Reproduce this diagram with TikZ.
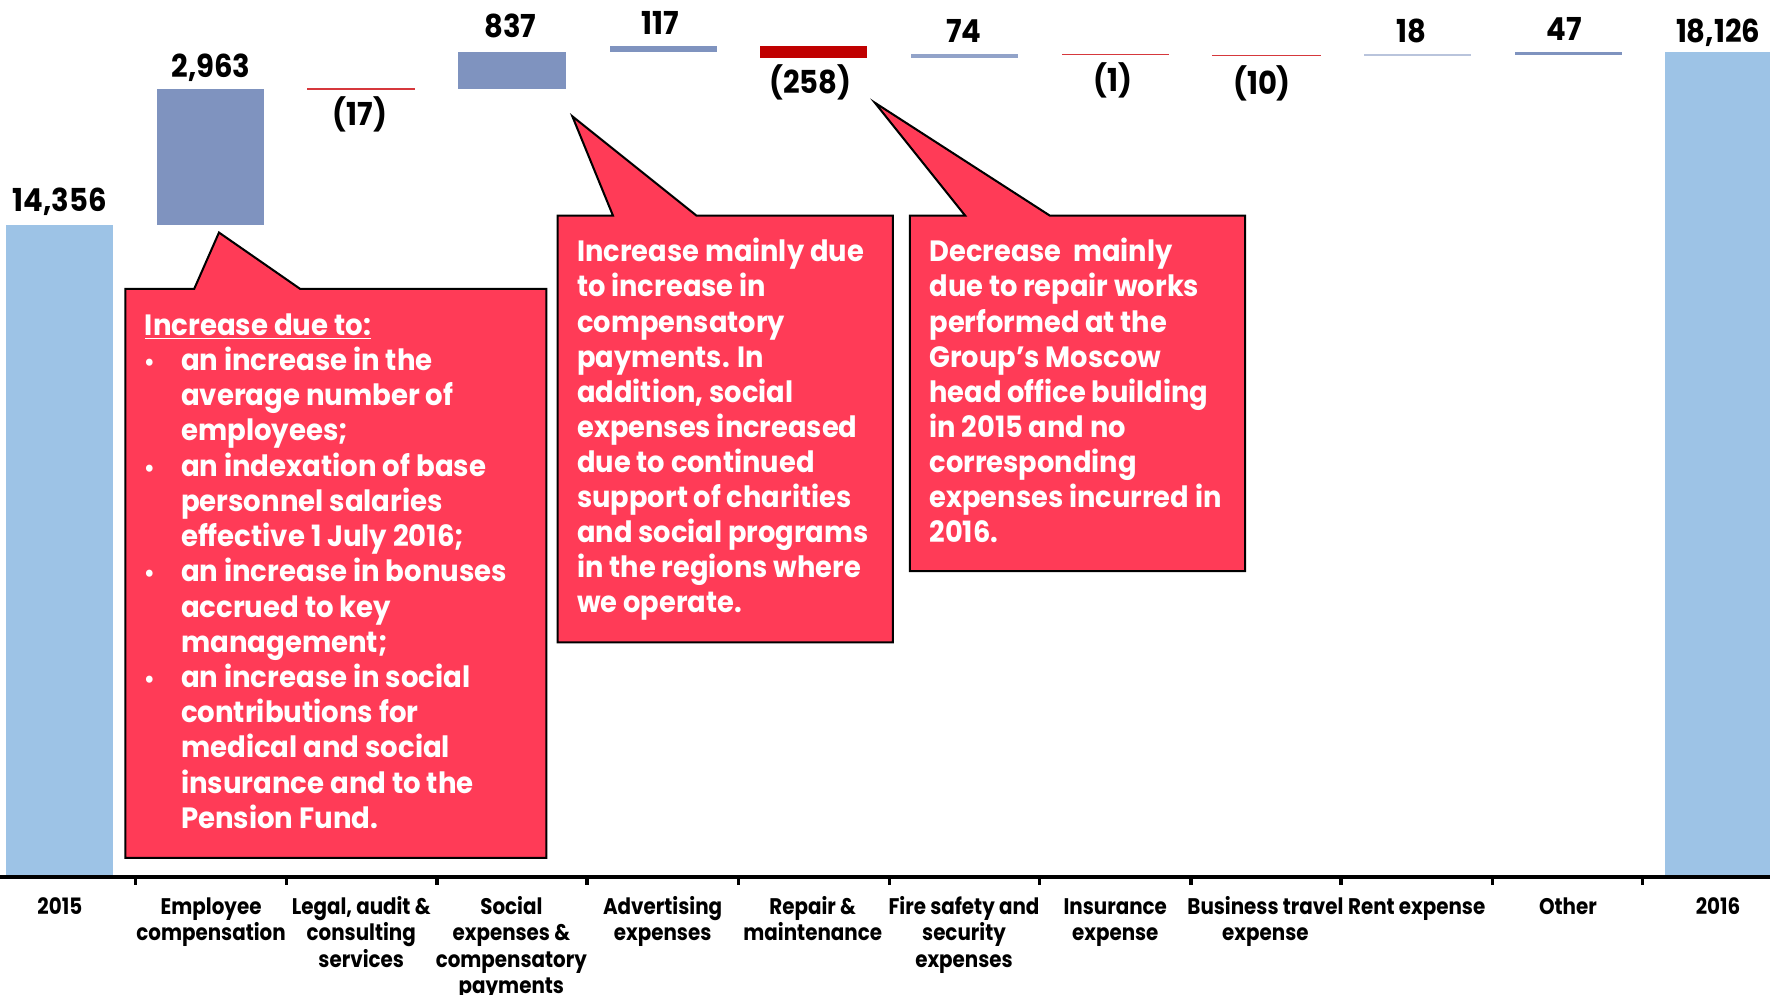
\documentclass[tikz,border=0pt]{standalone}
\usepackage{fontspec}
\setmainfont{Poppins}
\newfontfamily\afont{Poppins}[FakeStretch=0.94]
\newfontfamily\bfontc{Poppins}[FakeStretch=0.93]
\newfontfamily\condfont{Poppins}[FakeStretch=0.88]
\newfontfamily\numfont{Poppins}[FakeStretch=0.92]
\definecolor{lightbar}{RGB}{157,195,230}
\definecolor{incbar}{RGB}{127,147,191}
\definecolor{decline}{RGB}{214,56,60}
\definecolor{bigdec}{RGB}{192,0,0}
\definecolor{callred}{RGB}{255,59,87}
\newcommand{\catlines}[1]{\begin{tabular}[t]{@{}c@{}}#1\end{tabular}}
\newcommand{\boxlines}[1]{\parbox[t]{190pt}{\raggedright #1}}
\newcommand{\bl}{\hspace*{-0.5pt}\makebox[16.5pt][l]{\scalebox{0.8}{•}}}
\newcommand{\ct}{\hspace*{16pt}}
\begin{document}
\begin{tikzpicture}[x=0.5pt,y=-0.5pt,
  num/.style={font=\numfont\fontsize{14}{16}\selectfont\bfseries, anchor=base, inner sep=0},
  cat/.style={font=\condfont\fontsize{10}{11.75}\selectfont\bfseries, anchor=base, inner sep=0},
  callout/.style={fill=callred, draw=black, line width=0.9pt, line join=miter},
  ctextA/.style={font=\afont\fontsize{13}{15.6}\selectfont\bfseries, text=white, anchor=base west, inner sep=0},
  ctextB/.style={font=\bfontc\fontsize{13}{15.55}\selectfont\bfseries, text=white, anchor=base west, inner sep=0},
  tick/.style={line width=1.5pt},
]
\useasboundingbox (0,0) rectangle (1568,881);
% bars
\fill[lightbar] (5,199) rectangle (100,776);
\fill[incbar] (139,79) rectangle (234,199);
\fill[decline] (272,78) rectangle (368,80);
\fill[incbar] (406,46) rectangle (501,79);
\fill[incbar] (540,41) rectangle (635,46);
\fill[bigdec] (673,41) rectangle (768,51);
\fill[incbar!85!white] (807,48) rectangle (902,51);
\fill[decline] (941,47.5) rectangle (1036,49);
\fill[decline] (1074,48.5) rectangle (1170,50);
\fill[incbar!55!white] (1208,47.5) rectangle (1303,49.5);
\fill[incbar] (1342,46) rectangle (1437,48.5);
\fill[lightbar] (1475,46) rectangle (1568,776);
% axis
\coordinate (axL) at (0,777);
\coordinate (axR) at (1568,777);
\draw[line width=2pt] (axL) -- (axR);
\foreach \t in {120,254,387,520,654,788,921,1055,1188,1322,1455}
  \draw[tick] (\t,777) -- (\t,784);
% value labels
\node[num] (v2015) at (53,187) {14,356};
\node[num] (vemp) at (187,69) {2,963};
\node[num] (vleg) at (319,111) {(17)};
\node[num] (vsoc) at (452,33) {837};
\node[num] (vadv) at (585,31) {117};
\node[num] (vrep) at (718,83) {(258)};
\node[num] (vfire) at (854,38) {74};
\node[num] (vins) at (986,81) {(1)};
\node[num] (vbus) at (1118,84) {(10)};
\node[num] (vrent) at (1250,38) {18};
\node[num] (voth) at (1386,36) {47};
\node[num] (v2016) at (1522,38) {18,126};
% category labels
\node[cat] (c1) at (53,810) {\catlines{2015}};
\node[cat] (c2) at (187,810) {\catlines{Employee\\compensation}};
\node[cat] (c3) at (320,810) {\catlines{Legal, audit \&\\consulting\\services}};
\node[cat] (c4) at (453,810) {\catlines{Social\\expenses \&\\compensatory\\payments}};
\node[cat] (c5) at (587,810) {\catlines{Advertising\\expenses}};
\node[cat] (c6) at (720,810) {\catlines{Repair \&\\maintenance}};
\node[cat] (c7) at (854,810) {\catlines{Fire safety and\\security\\expenses}};
\node[cat] (c8) at (988,810) {\catlines{Insurance\\expense}};
\node[cat] (c9) at (1121,810) {\catlines{Business travel\\expense}};
\node[cat] (c10) at (1255,810) {\catlines{Rent expense}};
\node[cat] (c11) at (1389,810) {\catlines{Other}};
\node[cat] (c12) at (1522,810) {\catlines{2016}};
% callouts
\draw[callout] (111,256) -- (172,256) -- (194,206) -- (266,256) -- (484,256) -- (484,760) -- (111,760) -- cycle;
\draw[callout] (494,191) -- (543,191) -- (507,103) -- (617,191) -- (791,191) -- (791,569) -- (494,569) -- cycle;
\draw[callout] (806,191) -- (855,191) -- (775,91) -- (930,191) -- (1103,191) -- (1103,506) -- (806,506) -- cycle;
\node[ctextA] (t1) at (128,297) {\boxlines{\underline{Increase due to:}\\
\bl an increase in the\\
\ct average number of\\
\ct employees;\\
\bl an indexation of base\\
\ct personnel salaries\\
\ct effective 1 July 2016;\\
\bl an increase in bonuses\\
\ct accrued to key\\
\ct management;\\
\bl an increase in social\\
\ct contributions for\\
\ct medical and social\\
\ct insurance and to the\\
\ct Pension Fund.}};
\node[ctextB] (t2) at (511,232) {\boxlines{Increase mainly due\\
to increase in\\
compensatory\\
payments. In\\
addition, social\\
expenses increased\\
due to continued\\
support of charities\\
and social programs\\
in the regions where\\
we operate.}};
\node[ctextB] (t3) at (823,232) {\boxlines{Decrease\ \ mainly\\
due to repair works\\
performed at the\\
Group’s Moscow\\
head office building\\
in 2015 and no\\
corresponding\\
expenses incurred in\\
2016.}};
\end{tikzpicture}
\end{document}
